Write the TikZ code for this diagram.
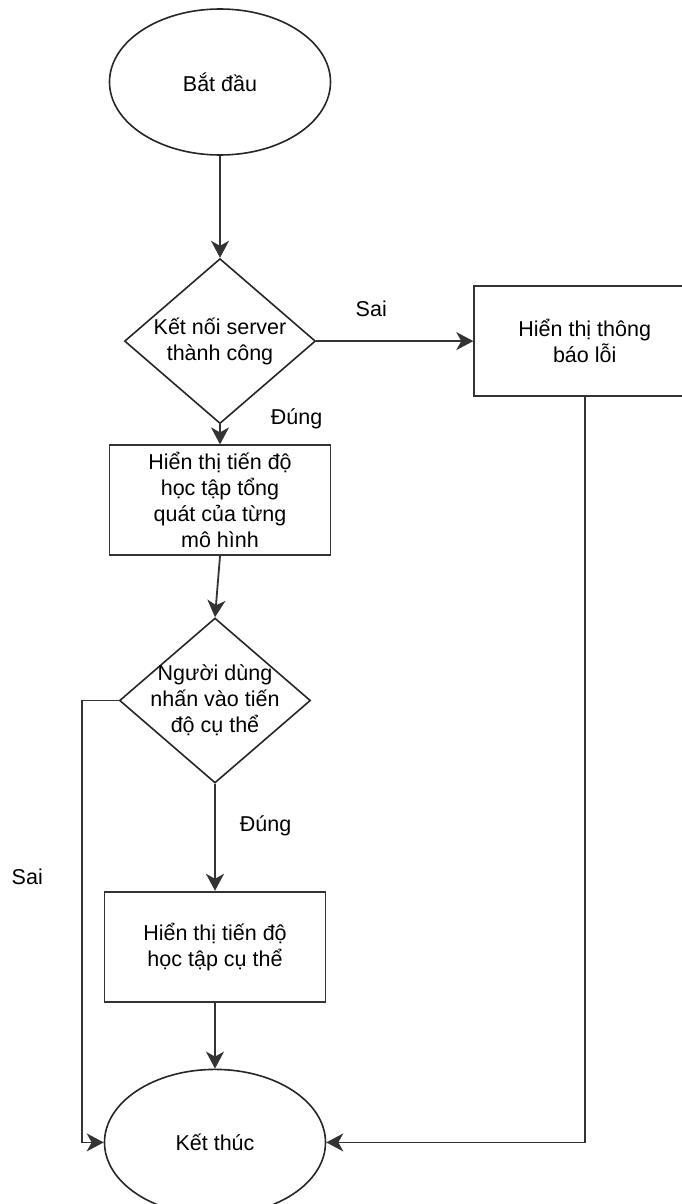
\documentclass[tikz,border=0pt]{standalone}
\usepackage{fontspec}
\setmainfont{Liberation Sans}
\usetikzlibrary{positioning, shapes.geometric, arrows.meta}

\begin{document}
\begin{tikzpicture}[
	x=1pt, y=-1pt,
	node distance=20pt,
	font=\fontsize{21.5}{26}\selectfont,
	termblock/.style={ellipse, draw=black!85, line width=1.6pt, minimum width=221pt, minimum height=146pt, inner sep=0pt, align=center},
	stepblock/.style={rectangle, draw=black!80, line width=1.8pt, minimum width=221pt, minimum height=110pt, inner sep=0pt, align=center},
	decblock/.style={diamond, draw=black!85, line width=1.6pt, minimum width=191pt, minimum height=165pt, inner sep=0pt},
	line/.style={draw=black!80, line width=1.8pt, -{Stealth[length=17pt, width=18pt, inset=5pt]}},
	edgelabel/.style={inner sep=0pt}
	]
	\useasboundingbox (0,0) rectangle (681,1204);
	
	\node [termblock] (start) at (220,82) {Bắt đầu};
	\node [decblock, below=102pt of start, label={[align=center]center:Kết nối server\\thành công}] (conn) {};
	\node [stepblock, right=157pt of conn] (err) {Hiển thị thông\\báo lỗi};
	\node [stepblock, below=20pt of conn] (overview) {Hiển thị tiến độ\\học tập tổng\\quát của từng\\mô hình};
	\node [decblock, below=61pt of overview, xshift=-5pt, label={[align=center]center:Người dùng\\nhấn vào tiến\\độ cụ thể}] (pick) {};
	\node [stepblock, below=107pt of pick] (detail) {Hiển thị tiến độ\\học tập cụ thể};
	\node [termblock, below=66pt of detail] (finish) {Kết thúc};
	
	\draw [line] (start.south) -- (conn.north);
	\draw [line] (conn.east) -- node [edgelabel, pos=0.35, above=23pt] {Sai} (err.west);
	\draw [line] (conn.south) -- node [edgelabel, pos=0, anchor=base west, xshift=50pt] {Đúng} (overview.north);
	\draw [line] (overview.south) -- (pick.north);
	\draw [line] (pick.south) -- node [edgelabel, pos=0.45, anchor=base west, xshift=24pt] {Đúng} (detail.north);
	\draw [line] (detail.south) -- (finish.north);
	
	% the two "Sai" branches meet the end node from the sides
	\draw [line] (pick.west) -- ++(-37pt,0) |- node [edgelabel, pos=0.2, left=38pt] {Sai} (finish.west);
	\draw [line] (err.south) |- (finish.east);
\end{tikzpicture}
\end{document}
